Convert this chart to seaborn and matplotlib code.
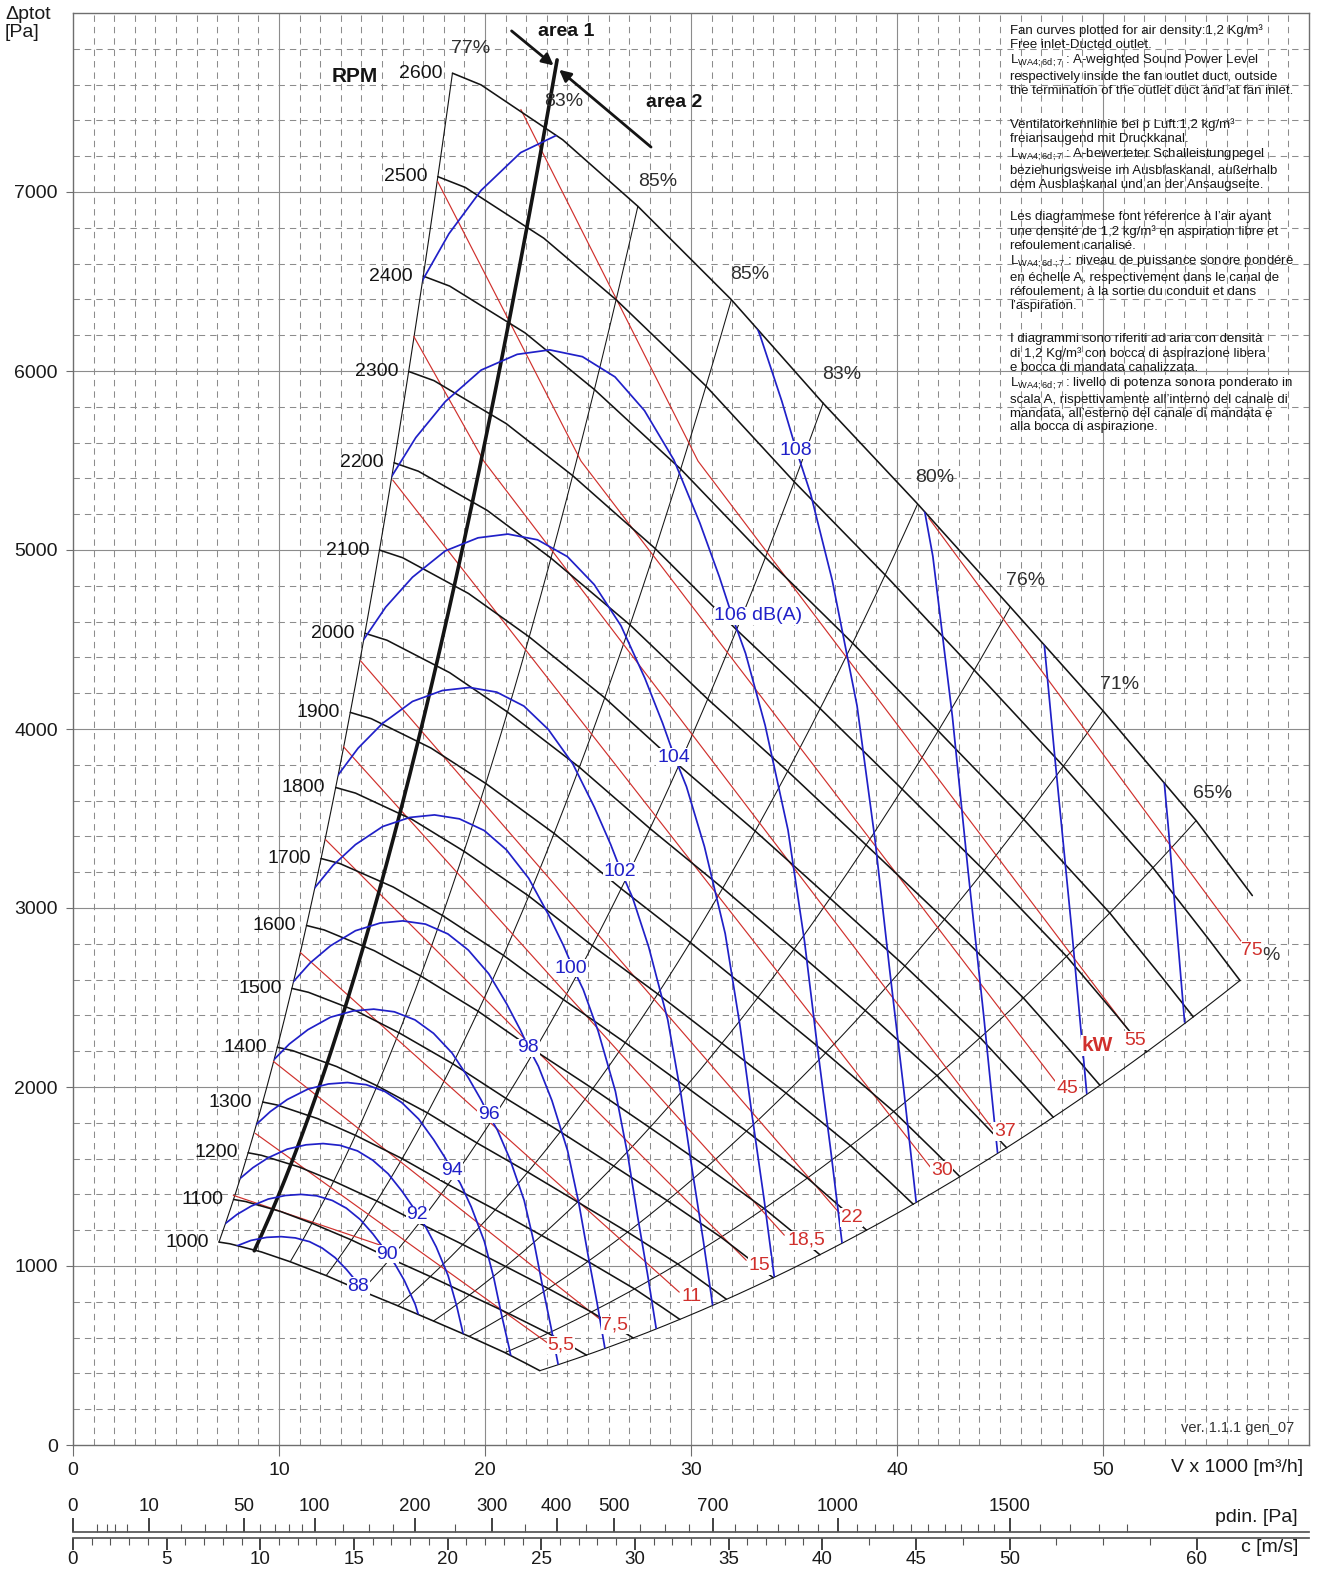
import numpy as np
import matplotlib
matplotlib.use("Agg")
import matplotlib.pyplot as plt
from matplotlib.path import Path
import seaborn as sns

sns.set_theme(style="white")
plt.rcParams["font.family"] = ["Liberation Sans", "DejaVu Sans"]
plt.rcParams["mathtext.fontset"] = "custom"
plt.rcParams["mathtext.rm"] = "Liberation Sans"
plt.rcParams["mathtext.it"] = "Liberation Sans:italic"
plt.rcParams["mathtext.bf"] = "Liberation Sans:bold"
plt.rcParams["lines.scale_dashes"] = False

# ---------------------------------------------------------------- data
# fan characteristic at 1000 rpm: flow (x1000 m3/h) and total pressure (Pa)
rpm_values = [1000, 1100, 1200, 1300, 1400, 1500, 1600, 1700, 1800,
              1900, 2000, 2100, 2200, 2300, 2400, 2500, 2600]
char_flow = [7.085, 7.62, 9.142, 10.546, 12.29, 14.0, 15.77, 17.5, 19.23,
             20.97, 22.02, 22.66]
char_ptot = [1133.7, 1124.0, 1078.7, 1023.7, 946.6, 861.2, 777.7, 692.6,
             606.8, 516.0, 454.0, 415.2]
# flow at which each speed curve stops
rpm_flow_end = [22.66, 24.93, 27.19, 29.46, 31.72, 33.99, 36.26, 38.52,
                40.79, 43.05, 45.32, 47.59, 49.85, 52.12, 54.38, 56.65, 57.25]

# system (constant efficiency) lines, given by their point on the 2600 rpm curve
eff_flow_top = [27.42, 31.96, 36.42, 41.0, 45.5, 50.0, 54.52]
eff_ptot_top = [6920, 6399, 5822, 5257, 4682, 4102, 3488]
eff_text = ["77%", "83%", "85%", "85%", "83%", "80%", "76%", "71%", "65%"]
eff_text_flow = [19.31, 23.83, 28.36, 32.83, 37.31, 41.83, 46.25, 50.78, 55.30]
eff_text_ptot = [7801, 7505, 7059, 6540, 5982, 5407, 4827, 4247, 3638]

# stall limit, lower operating limit and area separation line (end points)
stall_flow = [7.085, 18.42]
stall_ptot = [1133.7, 7664]
limit_flow = [22.66, 56.65]
limit_ptot = [415.2, 2595]
area_flow = [8.8, 23.5]
area_ptot = [1080, 7738]

# motor power lines (kW)
kw_text = ["5,5", "7,5", "11", "15", "18,5", "22", "30", "37", "45", "55", "75"]
kw_low = [(7.78, 1395), (14.93, 1116)]
kw_5_5 = [(8.85, 1741), (23.05, 569)]
kw_7_5 = [(9.73, 2143), (25.63, 698)]
kw_11 = [(11.04, 2751), (29.43, 854)]
kw_15 = [(12.26, 3382), (32.68, 1032)]
kw_18_5 = [(13.13, 3901), (34.53, 1172)]
kw_22 = [(13.96, 4381), (37.21, 1295)]
kw_30 = [(15.52, 5391), (41.63, 1551)]
kw_37 = [(16.54, 6194), (19.94, 5497), (44.70, 1758)]
kw_45 = [(17.70, 7059), (24.66, 5497), (47.76, 2020)]
kw_55 = [(21.74, 7461), (30.34, 5497), (51.17, 2327)]
kw_75 = [(41.54, 5179), (56.86, 2790)]
kw_text_flow = [23.69, 26.31, 30.01, 33.32, 35.60, 37.80, 42.17, 45.23, 48.25, 51.56, 57.25]
kw_text_ptot = [558, 670, 831, 1004, 1144, 1272, 1535, 1752, 1992, 2260, 2762]

# A-weighted sound power level lines, dB(A)
sound_88 = [(7.26, 1071), (7.88, 1109), (8.64, 1143), (9.40, 1160), (10.10, 1164),
            (10.79, 1157), (11.48, 1136), (12.10, 1100), (12.72, 1047), (13.28, 980),
            (13.69, 923), (13.97, 880), (14.24, 842)]
sound_90 = [(7.38, 1236), (7.96, 1288), (8.64, 1334), (9.48, 1374), (10.31, 1394),
            (11.07, 1400), (11.83, 1392), (12.59, 1366), (13.27, 1323), (13.95, 1259),
            (14.56, 1179), (15.01, 1110), (15.32, 1058), (15.62, 1012), (16.08, 920),
            (16.61, 786), (16.99, 644)]
sound_92 = [(8.09, 1487), (8.73, 1549), (9.48, 1605), (10.40, 1653), (11.31, 1677),
            (12.14, 1684), (12.97, 1674), (13.81, 1643), (14.55, 1591), (15.30, 1515),
            (15.97, 1418), (16.47, 1335), (16.80, 1273), (17.13, 1217), (17.63, 1107),
            (18.21, 946), (18.63, 775), (18.96, 611)]
sound_94 = [(8.87, 1788), (9.58, 1863), (10.40, 1930), (11.40, 1988), (12.40, 2017),
            (13.32, 2025), (14.23, 2013), (15.14, 1975), (15.96, 1913), (16.78, 1821),
            (17.51, 1705), (18.06, 1605), (18.42, 1530), (18.79, 1464), (19.33, 1331),
            (19.97, 1137), (20.43, 932), (20.79, 734), (21.16, 549), (21.48, 374)]
sound_96 = [(9.73, 2150), (10.5, 2240), (11.4, 2320), (12.5, 2390), (13.6, 2425),
            (14.6, 2435), (15.6, 2420), (16.6, 2375), (17.5, 2300), (18.4, 2190),
            (19.2, 2050), (19.8, 1930), (20.2, 1840), (20.6, 1760), (21.2, 1600),
            (21.9, 1367), (22.4, 1120), (22.8, 883), (23.2, 660), (23.55, 450)]
sound_98 = [(10.67, 2585), (11.51, 2693), (12.50, 2789), (13.71, 2873), (14.91, 2916),
            (16.01, 2928), (17.11, 2910), (18.20, 2855), (19.19, 2765), (20.18, 2633),
            (21.05, 2465), (21.71, 2320), (22.15, 2212), (22.59, 2116), (23.25, 1924),
            (24.01, 1644), (24.56, 1347), (25.00, 1062), (25.44, 794), (25.82, 541)]
sound_100 = [(11.70, 3108), (12.62, 3238), (13.71, 3354), (15.03, 3455), (16.35, 3506),
             (17.55, 3520), (18.76, 3498), (19.96, 3433), (21.04, 3325), (22.12, 3166),
             (23.08, 2963), (23.81, 2790), (24.29, 2660), (24.77, 2544), (25.49, 2313),
             (26.33, 1976), (26.93, 1619), (27.41, 1276), (27.89, 954), (28.31, 651)]
sound_102 = [(12.83, 3737), (13.84, 3893), (15.03, 4032), (16.48, 4154), (17.93, 4215),
             (19.25, 4232), (20.57, 4206), (21.89, 4128), (23.07, 3998), (24.26, 3806),
             (25.31, 3563), (26.10, 3355), (26.63, 3198), (27.16, 3059), (27.95, 2781),
             (28.87, 2376), (29.53, 1947), (30.06, 1535), (30.59, 1147), (31.05, 782)]
sound_104 = [(14.07, 4493), (15.18, 4681), (16.48, 4848), (18.07, 4995), (19.66, 5068),
             (21.11, 5089), (22.55, 5057), (24.00, 4963), (25.30, 4807), (26.60, 4577),
             (27.76, 4284), (28.62, 4033), (29.20, 3845), (29.78, 3678), (30.65, 3344),
             (31.66, 2857), (32.38, 2341), (32.96, 1845), (33.54, 1379), (34.04, 940)]
sound_106 = [(15.42, 5402), (16.64, 5628), (18.07, 5829), (19.81, 6005), (21.56, 6093),
             (23.14, 6118), (24.73, 6080), (26.31, 5967), (27.74, 5779), (29.17, 5503),
             (30.43, 5151), (31.38, 4849), (32.02, 4623), (32.65, 4422), (33.60, 4020),
             (34.71, 3435), (35.51, 2814), (36.14, 2219), (36.77, 1658), (37.33, 1131)]
sound_108 = [(16.91, 6495), (18.25, 6767), (19.81, 7009), (21.73, 7220), (23.64, 7326),
             (25.38, 7356), (27.11, 7311), (28.85, 7175), (30.42, 6948), (31.98, 6616),
             (33.37, 6193), (34.41, 5831), (35.11, 5559), (35.80, 5317), (36.85, 4834),
             (38.06, 4130), (38.93, 3384), (39.63, 2668), (40.32, 1994), (40.93, 1359)]
sound_110 = [(39.26, 6393), (40.40, 5812), (41.74, 4965), (42.69, 4068), (43.45, 3207),
             (44.21, 2397), (44.88, 1634)]
sound_112 = [(44.30, 6988), (45.77, 5970), (46.81, 4891), (47.65, 3856), (48.48, 2882),
             (49.21, 1965)]
sound_114 = [(51.33, 5881), (52.24, 4636), (53.16, 3465), (53.96, 2363)]
sound_text = ["88", "90", "92", "94", "96", "98", "100", "102", "104", "106 dB(A)", "108"]
sound_text_flow = [13.85, 15.25, 16.72, 18.38, 20.18, 22.10, 24.15, 26.55, 29.15, 33.27, 35.10]
sound_text_ptot = [888, 1066, 1285, 1535, 1848, 2218, 2664, 3205, 3843, 4632, 5558]

# secondary scales below the flow axis
c_major = [0, 5, 10, 15, 20, 25, 30, 35, 40, 45, 50, 60]
c_minor = [1, 2, 3, 4, 6, 7, 8, 9, 11, 12, 13, 14, 16, 17, 18, 19, 21, 22, 23, 24,
           26, 27, 28, 29, 31, 32, 33, 34, 36, 37, 38, 39, 42.5, 47.5, 52.5, 55, 57.5]
pdin_major = [0, 10, 50, 100, 200, 300, 400, 500, 700, 1000, 1500]
pdin_minor = [1, 2, 3, 5, 20, 30, 40, 60, 70, 80, 90, 125, 150, 175, 250, 350, 450,
              550, 600, 650, 750, 800, 850, 900, 950, 1050, 1100, 1150, 1200, 1250,
              1300, 1350, 1400, 1450, 1600, 1700, 1800, 1900]

note_en = ("Fan curves plotted for air density:1,2 Kg/m³\n"
           "Free inlet-Ducted outlet.\n"
           "L$_{\\mathrm{WA4;6d;7}}$ : A-weighted Sound Power Level\n"
           "respectively inside the fan outlet duct, outside\n"
           "the termination of the outlet duct and at fan inlet.")
note_de = ("Ventilatorkennlinie bei p Luft:1,2 kg/m³\n"
           "freiansaugend mit Druckkanal.\n"
           "L$_{\\mathrm{WA4;6d;7}}$ : A-bewerteter Schalleistungpegel\n"
           "beziehungsweise im Ausblaskanal, außerhalb\n"
           "dem Ausblaskanal und an der Ansaugseite.")
note_fr = ("Les diagrammese font réference à l’air ayant\n"
           "une densité de 1,2 kg/m³ en aspiration libre et\n"
           "refoulement canalisé.\n"
           "L$_{\\mathrm{WA4;6d\\ ;7}}$ : niveau de puissance sonore pondéré\n"
           "en échelle A, respectivement dans le canal de\n"
           "réfoulement, à la sortie du conduit et dans\n"
           "l’aspiration.")
note_it = ("I diagrammi sono riferiti ad aria con densità\n"
           "di 1,2 Kg/m³ con bocca di aspirazione libera\n"
           "e bocca di mandata canalizzata.\n"
           "L$_{\\mathrm{WA4;6d;7}}$ : livello di potenza sonora ponderato in\n"
           "scala A, rispettivamente all’interno del canale di\n"
           "mandata, all’esterno del canale di mandata e\n"
           "alla bocca di aspirazione.")
note_top_ptot = [7935, 7411, 6892, 6211]

# ---------------------------------------------------------------- figure
W_PX, H_PX = 1317, 1571
fig = plt.figure(figsize=(W_PX / 100, H_PX / 100), dpi=100)
L, R, T, B = 73, 1309, 13, 1445
ax = fig.add_axes([L / W_PX, 1 - B / H_PX, (R - L) / W_PX, (B - T) / H_PX])
ax.set_xlim(0, 60)
ax.set_ylim(0, 8000)

BLACK = "#141414"
RED = "#d0302c"
BLUE = "#2020c8"
GRID = "#8c8c8c"
DASH = (0, (4.6, 3.6))

# grid
for v in range(1, 60):
    if v % 10:
        ax.axvline(v, color=GRID, lw=0.75, ls=DASH, zorder=0)
    else:
        ax.axvline(v, color=GRID, lw=0.8, zorder=0)
for p in range(200, 8000, 200):
    if p % 1000:
        ax.axhline(p, color=GRID, lw=0.75, ls=DASH, zorder=0)
    else:
        ax.axhline(p, color=GRID, lw=0.8, zorder=0)

for s in ax.spines.values():
    s.set_color("#6e6e6e")
    s.set_linewidth(1.0)
ax.set_xticks([0, 10, 20, 30, 40, 50])
ax.set_yticks([0, 1000, 2000, 3000, 4000, 5000, 6000, 7000])
ax.set_xticklabels(["0", "10", "20", "30", "40", "50"])
ax.set_yticklabels(["0", "1000", "2000", "3000", "4000", "5000", "6000", "7000"])
ax.tick_params(axis="x", length=8, width=0.8, color="#6e6e6e", pad=4,
               labelsize=14, labelcolor="#1a1a1a", bottom=True)
ax.tick_params(axis="y", length=5, width=0.8, color="#6e6e6e", pad=6,
               labelsize=14, labelcolor="#1a1a1a", left=True)


def draw(v, p, color, lw, z, **kw):
    sns.lineplot(x=np.asarray(v, float), y=np.asarray(p, float), sort=False,
                 estimator=None, color=color, linewidth=lw, ax=ax, legend=False,
                 zorder=z, **kw)
    return ax.lines[-1]


def speed_curve(n, v_end):
    s = n / 1000.0
    v = np.asarray(char_flow) * s
    p = np.asarray(char_ptot) * s * s
    keep = v < v_end
    return np.append(v[keep], v_end), np.append(p[keep], np.interp(v_end, v, p))


def system_curve(v0, v1, p1, num=40):
    v = np.linspace(v0, v1, num)
    return v, p1 * (v / v1) ** 2


# envelope of the operating field (used to trim the sound lines)
v_lo, p_lo = speed_curve(rpm_values[0], rpm_flow_end[0])
v_hi, p_hi = speed_curve(rpm_values[-1], rpm_flow_end[-1])
v_lim, p_lim = system_curve(limit_flow[0], limit_flow[1], limit_ptot[1])
v_st, p_st = system_curve(stall_flow[0], stall_flow[1], stall_ptot[1])
env_xy = np.column_stack([np.concatenate([v_lo, v_lim, v_hi[::-1], v_st[::-1]]),
                          np.concatenate([p_lo, p_lim, p_hi[::-1], p_st[::-1]])])
env_xy = np.vstack([env_xy, env_xy[:1]])
envelope = Path(env_xy)

# boundaries
draw(v_st, p_st, BLACK, 0.8, 2)
draw(v_lim, p_lim, BLACK, 0.8, 2)
v_a, p_a = system_curve(area_flow[0], area_flow[1], area_ptot[1])
draw(v_a, p_a, BLACK, 2.6, 2.6)

# efficiency lines
for vt, pt in zip(eff_flow_top, eff_ptot_top):
    v, p = system_curve(vt / 2.6, vt, pt)
    draw(v, p, BLACK, 0.75, 2)

# speed curves
for n, ve in zip(rpm_values, rpm_flow_end):
    v, p = speed_curve(n, ve)
    draw(v, p, BLACK, 1.15, 2.5)
    ax.text(v[0] - 0.5, p[0], str(n), ha="right", va="center", fontsize=14,
            color=BLACK, zorder=6)

# power lines
for pts in [kw_low, kw_5_5, kw_7_5, kw_11, kw_15, kw_18_5, kw_22, kw_30, kw_37,
            kw_45, kw_55, kw_75]:
    v, p = zip(*pts)
    draw(v, p, RED, 0.85, 2.2)

# sound lines
for pts in [sound_88, sound_90, sound_92, sound_94, sound_96, sound_98, sound_100,
            sound_102, sound_104, sound_106, sound_108, sound_110, sound_112, sound_114]:
    v, p = zip(*pts)
    ln = draw(v, p, BLUE, 1.25, 3)
    ln.set_clip_path(envelope, ax.transData)

label_box = dict(facecolor="white", edgecolor="none", pad=0.6)
for t, v, p in zip(sound_text, sound_text_flow, sound_text_ptot):
    ax.text(v, p, t, ha="center", va="center", fontsize=14, color=BLUE,
            bbox=label_box, zorder=7)
for t, v, p in zip(kw_text, kw_text_flow, kw_text_ptot):
    ax.text(v, p, t, ha="center", va="center", fontsize=14, color=RED,
            bbox=label_box, zorder=7)
ax.text(49.71, 2232, "kW", ha="center", va="center", fontsize=15, color=RED,
        fontweight="bold", bbox=label_box, zorder=7)
ax.text(58.15, 2735, "%", ha="center", va="center", fontsize=14, color="#333333", zorder=7)

for t, v, p in zip(eff_text, eff_text_flow, eff_text_ptot):
    ax.text(v, p, t, ha="center", va="center", fontsize=14, color="#2e2e2e", zorder=6)

ax.text(13.67, 7646, "RPM", ha="center", va="center", fontsize=15,
        fontweight="bold", color=BLACK, zorder=6)
ax.text(23.93, 7896, "area 1", ha="center", va="center", fontsize=14,
        fontweight="bold", color=BLACK, zorder=6)
ax.text(29.18, 7500, "area 2", ha="center", va="center", fontsize=14,
        fontweight="bold", color=BLACK, zorder=6)
arrow = dict(arrowstyle="-|>", color=BLACK, lw=2.0, mutation_scale=17,
             shrinkA=0, shrinkB=0)
ax.annotate("", xy=(23.33, 7707), xytext=(21.29, 7900), arrowprops=arrow, zorder=6)
ax.annotate("", xy=(23.60, 7683), xytext=(28.06, 7251), arrowprops=arrow, zorder=6)

for txt, ptop in zip([note_en, note_de, note_fr, note_it], note_top_ptot):
    ax.text(45.48, ptop, txt, ha="left", va="top", fontsize=9.5,
            linespacing=1.2, color="#151515", zorder=6)

ax.text(59.3, 95, "ver. 1.1.1 gen_07", ha="right", va="center", fontsize=10.5,
        color="#333333", zorder=6)

fig.text(5 / W_PX, 1 - 6 / H_PX, "Δptot\n[Pa]", ha="left", va="top", fontsize=14,
         linespacing=1.05, color="#1a1a1a")
fig.text(1303 / W_PX, 1 - 1467 / H_PX, "V x 1000 [m³/h]", ha="right", va="center",
         fontsize=14, color="#1a1a1a")

# dynamic pressure scale (baseline with ticks and labels above it)
ax_p = fig.add_axes([L / W_PX, (H_PX - 1532) / H_PX - 0.001, (R - L) / W_PX, 0.001])
ax_p.set_xscale("function", functions=(lambda q: np.sqrt(np.maximum(q, 0) / 0.6),
                                       lambda c: 0.6 * np.asarray(c) ** 2))
ax_p.set_xlim(0, 0.6 * 65.99 ** 2)
ax_p.set_yticks([])
for k, s in ax_p.spines.items():
    s.set_visible(k == "top")
    s.set_color("#555555")
ax_p.xaxis.tick_top()
ax_p.set_xticks(pdin_major)
ax_p.set_xticklabels([str(q) for q in pdin_major])
ax_p.set_xticks(pdin_minor, minor=True)
ax_p.tick_params(axis="x", which="major", direction="out", length=10, width=1.3,
                 color="#333333", pad=2, labelsize=13.5, labelcolor="#1a1a1a")
ax_p.tick_params(axis="x", which="minor", direction="out", length=6, width=0.8,
                 color="#555555")
ax_p.patch.set_alpha(0)

# air velocity scale (baseline with ticks and labels below it)
ax_c = fig.add_axes([L / W_PX, (H_PX - 1538) / H_PX, (R - L) / W_PX, 0.001])
ax_c.set_xlim(0, 65.99)
ax_c.set_yticks([])
for k, s in ax_c.spines.items():
    s.set_visible(k == "bottom")
    s.set_color("#555555")
ax_c.set_xticks(c_major)
ax_c.set_xticklabels([str(c) for c in c_major])
ax_c.set_xticks(c_minor, minor=True)
ax_c.tick_params(axis="x", which="major", direction="out", length=8.5, width=1.3,
                 color="#333333", pad=1.0, labelsize=13.5, labelcolor="#1a1a1a",
                 bottom=True, top=False)
ax_c.tick_params(axis="x", which="minor", direction="out", length=5, width=0.8,
                 color="#555555", bottom=True, top=False)
ax_c.patch.set_alpha(0)

fig.text(1298 / W_PX, 1 - 1518 / H_PX, "pdin. [Pa]", ha="right", va="center",
         fontsize=14, color="#1a1a1a")
fig.text(1298 / W_PX, 1 - 1547 / H_PX, "c [m/s]", ha="right", va="center",
         fontsize=14, color="#1a1a1a")

fig.savefig("out.png", dpi=100)
